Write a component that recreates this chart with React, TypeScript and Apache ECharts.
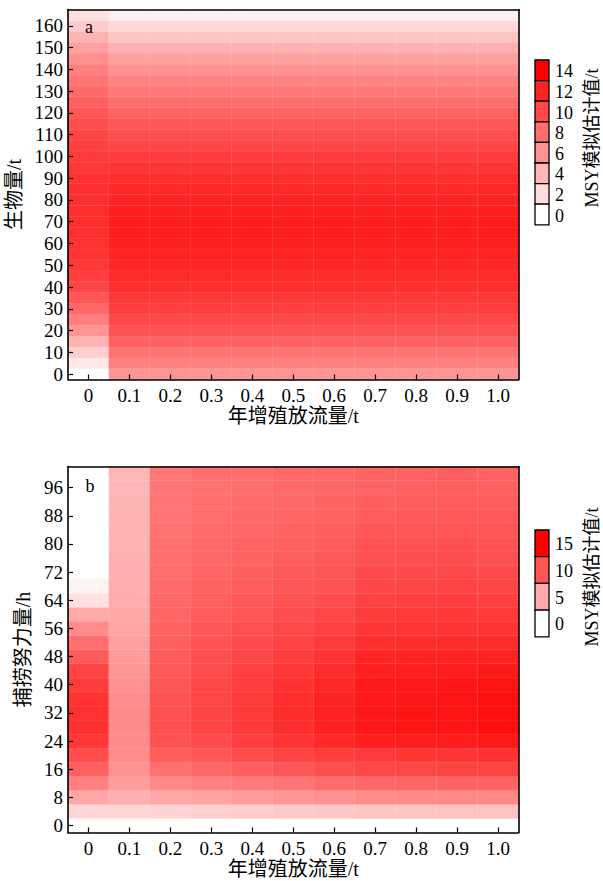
import React, { useEffect, useRef } from 'react';
import * as echarts from 'echarts';

// ---------- data ----------
const xCategories = ['0', '0.1', '0.2', '0.3', '0.4', '0.5', '0.6', '0.7', '0.8', '0.9', '1.0'];

// panel a: biomass rows (t), step 5
const biomassCategories = [
  '0', '5', '10', '15', '20', '25', '30', '35', '40', '45', '50', '55', '60', '65', '70', '75', '80',
  '85', '90', '95', '100', '105', '110', '115', '120', '125', '130', '135', '140', '145', '150', '155',
  '160', '165',
];
// -1 = no estimate (grey cell)
const msyA_stock0 = [
  -1, 1.25, 2.7, 4.2, 5.8, 7.1, 8.3, 9.3, 10.2, 10.6, 10.9, 11.1, 11.3, 11.4, 11.5, 11.5, 11.5,
  11.4, 11.3, 11.0, 10.8, 10.5, 10.2, 9.7, 9.3, 8.8, 8.3, 7.6, 7.0, 6.2, 5.2, 4.1, 2.8, 1.7,
];
// stocking 0.1 … 1.0 share the same profile
const msyA_stocked = [
  5.9, 6.9, 7.7, 8.6, 9.5, 10.0, 10.6, 11.0, 11.4, 11.7, 11.9, 12.1, 12.3, 12.4, 12.4, 12.3, 12.1,
  11.8, 11.5, 11.1, 10.7, 10.2, 9.7, 9.2, 8.6, 8.0, 7.4, 6.7, 6.0, 5.2, 4.3, 3.2, 2.1, 0.9,
];

// panel b: fishing effort rows (h), step 4
const effortCategories = [
  '0', '4', '8', '12', '16', '20', '24', '28', '32', '36', '40', '44', '48', '52', '56', '60', '64',
  '68', '72', '76', '80', '84', '88', '92', '96', '100',
];
const msyB_00 = [-1, 2.5, 5.1, 7.4, 9.3, 10.5, 11.7, 12.1, 12.2, 12.0, 11.5, 11.0, 9.7, 8.5, 6.8, 5.0, 1.9, 0.75, 0, 0, 0, 0, 0, 0, 0, 0];
const msyB_01 = [0, 2.5, 4.7, 5.8, 6.4, 6.8, 6.9, 6.9, 6.9, 6.7, 6.5, 6.2, 5.9, 5.6, 5.3, 5.1, 4.9, 4.8, 4.7, 4.6, 4.5, 4.5, 4.4, 4.4, 4.3, 4.3];
const msyB_02 = [0, 2.6, 5.2, 7.0, 8.4, 9.6, 10.1, 10.3, 10.3, 10.2, 10.0, 9.8, 9.6, 9.4, 9.2, 9.0, 8.9, 8.7, 8.6, 8.5, 8.4, 8.3, 8.2, 8.1, 8.1, 8.0];
const msyB_03 = [0, 2.8, 5.5, 7.4, 8.9, 9.9, 10.6, 10.9, 11.0, 10.9, 10.8, 10.6, 10.4, 10.1, 9.9, 9.6, 9.4, 9.2, 9.0, 8.9, 8.8, 8.7, 8.6, 8.5, 8.4, 8.4];
const msyB_04 = [0, 3.0, 5.8, 7.8, 9.4, 10.5, 11.3, 11.6, 11.7, 11.6, 11.4, 11.2, 10.9, 10.6, 10.3, 10.0, 9.8, 9.6, 9.4, 9.2, 9.1, 8.9, 8.8, 8.7, 8.6, 8.6];
const msyB_05 = [0, 3.2, 6.2, 8.2, 9.9, 11.0, 12.0, 12.3, 12.4, 12.3, 12.1, 11.8, 11.4, 11.1, 10.7, 10.4, 10.1, 9.9, 9.7, 9.5, 9.3, 9.2, 9.0, 8.9, 8.8, 8.8];
const msyB_06 = [0, 3.3, 6.5, 8.6, 10.4, 11.4, 12.6, 13.0, 13.0, 12.9, 12.7, 12.4, 12.0, 11.6, 11.2, 10.8, 10.5, 10.2, 10.0, 9.8, 9.6, 9.4, 9.2, 9.1, 9.0, 8.9];
const msyB_07 = [0, 3.5, 6.8, 8.9, 10.8, 11.6, 13.1, 13.7, 13.7, 13.6, 13.5, 13.2, 12.8, 12.3, 11.8, 11.5, 11.1, 10.8, 10.6, 10.3, 10.1, 9.9, 9.6, 9.4, 9.2, 9.1];
const msyB_08 = [0, 3.5, 6.9, 9.0, 10.9, 11.8, 13.2, 13.8, 13.8, 13.7, 13.6, 13.3, 12.9, 12.4, 11.9, 11.6, 11.2, 10.9, 10.6, 10.4, 10.2, 9.9, 9.7, 9.5, 9.3, 9.2];
const msyB_09 = [0, 3.6, 7.0, 9.1, 11.0, 11.9, 13.3, 13.9, 13.9, 13.8, 13.7, 13.4, 13.0, 12.5, 12.0, 11.7, 11.3, 11.0, 10.7, 10.5, 10.3, 10.0, 9.8, 9.6, 9.5, 9.4];
const msyB_10 = [0, 3.6, 7.0, 9.2, 11.1, 12.0, 13.5, 14.1, 14.1, 14.0, 13.8, 13.5, 13.0, 12.5, 12.0, 11.6, 11.2, 10.9, 10.6, 10.3, 10.1, 9.9, 9.7, 9.5, 9.3, 9.2];

const legendTicksA = [0, 2, 4, 6, 8, 10, 12, 14];
const legendTicksB = [0, 5, 10, 15];

// ---------- helpers ----------
const SERIF = "'Liberation Serif', 'Times New Roman', 'Noto Sans CJK SC', serif";
const CJK = "'Liberation Serif', 'Noto Sans CJK SC', serif";

function redShade(v: number, max: number) {
  const t = Math.max(0, Math.min(1, v / max));
  const g = Math.round(255 * (1 - t));
  const h = g.toString(16).padStart(2, '0');
  return `#ff${h}${h}`;
}

export default function App() {
  const ref = useRef<HTMLDivElement>(null);
  useEffect(() => {
    document.body.style.margin = '0';
    if (!ref.current) return;
    const chart = echarts.init(ref.current, null, { renderer: 'svg' });

    const colsA = xCategories.map((_, i) => (i === 0 ? msyA_stock0 : msyA_stocked));
    const colsB = [msyB_00, msyB_01, msyB_02, msyB_03, msyB_04, msyB_05, msyB_06, msyB_07, msyB_08, msyB_09, msyB_10];
    const dataA: number[][] = [];
    colsA.forEach((col, xi) => col.forEach((v, yi) => dataA.push([xi, yi, v])));
    const dataB: number[][] = [];
    colsB.forEach((col, xi) => col.forEach((v, yi) => dataB.push([xi, yi, v])));

    const grids = [
      { left: 68, top: 9.5, width: 450.5, height: 370, containLabel: false, outerBoundsMode: 'none' },
      { left: 68, top: 466.5, width: 450.5, height: 366, containLabel: false, outerBoundsMode: 'none' },
    ];
    const axisLine = { show: true, onZero: false, lineStyle: { color: '#000', width: 1.6 } };
    const labelStyle = { color: '#000', fontFamily: SERIF, fontSize: 19 };
    const nameStyle = { color: '#000', fontFamily: CJK, fontSize: 20 };

    const mkX = (gi: number) => [
      {
        type: 'category', gridIndex: gi, data: xCategories, position: 'bottom', z: 10,
        axisLine, axisTick: { show: true, inside: true, alignWithLabel: true, length: 5, lineStyle: { color: '#000', width: 1.2 } },
        axisLabel: { ...labelStyle, margin: 6 }, splitLine: { show: false },
        name: '年增殖放流量/t', nameLocation: 'middle', nameGap: 26, nameTextStyle: nameStyle,
      },
      {
        type: 'category', gridIndex: gi, data: xCategories, position: 'top', z: 10,
        axisLine, axisTick: { show: false }, axisLabel: { show: false }, splitLine: { show: false },
      },
    ];
    const mkY = (gi: number, cats: string[], name: string, gap: number) => [
      {
        type: 'category', gridIndex: gi, data: cats, position: 'left', z: 10,
        axisLine, axisTick: { show: true, inside: true, alignWithLabel: true, interval: 1, length: 5, lineStyle: { color: '#000', width: 1.2 } },
        axisLabel: { ...labelStyle, margin: 5, interval: 1 }, splitLine: { show: false },
        name, nameLocation: 'middle', nameGap: gap, nameTextStyle: nameStyle,
      },
      {
        type: 'category', gridIndex: gi, data: cats, position: 'right', z: 10,
        axisLine, axisTick: { show: false }, axisLabel: { show: false }, splitLine: { show: false },
      },
    ];

    const legend = (x: number, y: number, h: number, ticks: number[], max: number, titleY: number) => {
      const els: any[] = [];
      ticks.slice().reverse().forEach((t, i) => {
        els.push({
          type: 'rect', shape: { x, y: y + i * h, width: 14, height: h },
          style: { fill: redShade(t, max), stroke: '#000', lineWidth: 1.3 }, z: 20,
        });
        els.push({
          type: 'text', x: x + 20, y: y + i * h + h / 2 + 1,
          style: { text: String(t), font: `18px ${SERIF}`, fill: '#000', textAlign: 'left', textVerticalAlign: 'middle' }, z: 20,
        });
      });
      els.push({
        type: 'text', x: 592, y: titleY, rotation: Math.PI / 2,
        style: { text: 'MSY模拟估计值/t', font: `18px ${CJK}`, fill: '#000', textAlign: 'center', textVerticalAlign: 'middle' }, z: 20,
      });
      return els;
    };

    chart.setOption({
      animation: false,
      backgroundColor: '#fff',
      grid: grids,
      xAxis: [...mkX(0), ...mkX(1)].map((a: any, i) => ({ ...a, gridIndex: i < 2 ? 0 : 1 })),
      yAxis: [...mkY(0, biomassCategories, '生物量/t', 41), ...mkY(1, effortCategories, '捕捞努力量/h', 35)].map((a: any, i) => ({ ...a, gridIndex: i < 2 ? 0 : 1 })),
      visualMap: [
        { type: 'continuous', show: false, seriesIndex: 0, min: 0, max: 14, inRange: { color: ['#ffffff', '#ff0000'] }, outOfRange: { color: ['#ebebeb'] } },
        { type: 'continuous', show: false, seriesIndex: 1, min: 0, max: 15, inRange: { color: ['#ffffff', '#ff0000'] }, outOfRange: { color: ['#ebebeb'] } },
      ],
      series: [
        { type: 'heatmap', xAxisIndex: 0, yAxisIndex: 0, data: dataA, itemStyle: { borderColor: 'rgba(255,255,255,0.18)', borderWidth: 0.5 } },
        { type: 'heatmap', xAxisIndex: 2, yAxisIndex: 2, data: dataB, itemStyle: { borderColor: 'rgba(255,255,255,0.18)', borderWidth: 0.5 } },
      ],
      graphic: [
        { type: 'text', x: 89, y: 27, style: { text: 'a', font: `18px ${SERIF}`, fill: '#000', textAlign: 'center', textVerticalAlign: 'middle' }, z: 20 },
        { type: 'text', x: 90, y: 486, style: { text: 'b', font: `18px ${SERIF}`, fill: '#000', textAlign: 'center', textVerticalAlign: 'middle' }, z: 20 },
        ...legend(535, 60, 20.6, legendTicksA, 14, 138),
        ...legend(535, 530, 26.7, legendTicksB, 15, 577),
      ],
    });
    return () => chart.dispose();
  }, []);
  return <div ref={ref} style={{ width: 603, height: 881 }} />;
}
